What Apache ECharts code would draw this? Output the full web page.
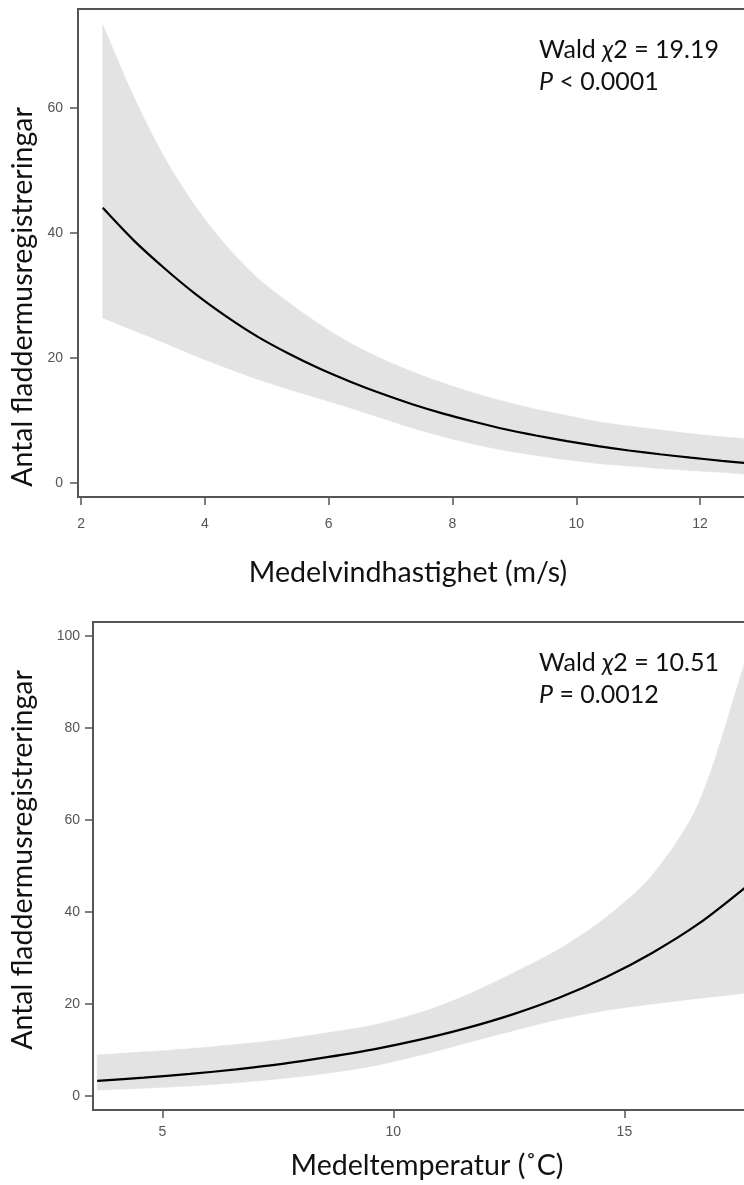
<!DOCTYPE html>
<html>
<head>
<meta charset="utf-8">
<script src="https://cdn.jsdelivr.net/npm/echarts@6/dist/echarts.min.js"></script>
<style>
html, body { margin: 0; padding: 0; background: #fff; }
#chart { width: 744px; height: 1185px; }
</style>
</head>
<body>
<div id="chart"></div>
<script>
// top panel: mean wind speed (m/s)
const windX     = [2.35, 2.85, 3.35, 3.85, 4.35, 4.85, 5.35, 5.85, 6.35, 6.85, 7.35, 7.85, 8.35, 8.85, 9.35, 9.85, 10.35, 10.85, 11.35, 11.85, 12.35, 12.85];
const windFit   = [44.0, 38.8, 34.3, 30.2, 26.6, 23.4, 20.7, 18.3, 16.2, 14.3, 12.6, 11.1, 9.8, 8.6, 7.6, 6.7, 5.9, 5.2, 4.6, 4.05, 3.55, 3.1];
const windLower = [26.4, 24.4, 22.4, 20.3, 18.4, 16.6, 15.0, 13.5, 12.0, 10.4, 8.8, 7.4, 6.2, 5.2, 4.4, 3.7, 3.1, 2.7, 2.3, 2.0, 1.7, 1.35];
const windUpper = [73.3, 61.8, 52.0, 44.2, 37.9, 32.8, 28.9, 25.4, 22.4, 19.9, 17.8, 16.0, 14.4, 13.0, 11.8, 10.8, 9.8, 9.1, 8.5, 7.9, 7.4, 7.0];
const windXTicks = [2, 4, 6, 8, 10, 12];
const windYTicks = [0, 20, 40, 60];

// bottom panel: mean temperature (C)
const tempX     = [3.59, 4.6, 5.6, 6.6, 7.6, 8.6, 9.6, 10.6, 11.6, 12.6, 13.6, 14.6, 15.6, 16.6, 17.6];
const tempFit   = [3.3, 4.0, 4.8, 5.8, 7.0, 8.5, 10.2, 12.3, 14.8, 17.8, 21.4, 25.8, 31.1, 37.4, 45.2];
const tempLower = [1.3, 1.7, 2.2, 2.9, 3.8, 5.0, 6.6, 8.9, 11.6, 14.2, 16.7, 18.6, 20.0, 21.2, 22.3];
const tempUpper = [8.9, 9.6, 10.3, 11.2, 12.3, 13.8, 15.5, 18.2, 22.0, 26.8, 32.0, 38.8, 48.0, 63.5, 94.0];
const tempXTicks = [5, 10, 15];
const tempYTicks = [0, 20, 40, 60, 80, 100];

const yTitle = 'Antal fladdermusregistreringar';
const windTitle = 'Medelvindhastighet (m/s)';
const tempTitle = 'Medeltemperatur (˚C)';

const frameColor = '#555';
const bandColor = '#e3e3e3';
const textFont = 'Lato, "Open Sans", sans-serif';

const pairs = function (xs, ys) {
    return xs.map(function (x, i) { return [x, ys[i]]; });
};

const makeAxis = function (idx, min, max, ticks, margin) {
    return {
        type: 'value', gridIndex: idx, min: min, max: max,
        axisLine: { show: false, onZero: false },
        splitLine: { show: false },
        axisTick: { show: true, customValues: ticks, length: 8, lineStyle: { color: frameColor, width: 1.5 } },
        axisLabel: { customValues: ticks, margin: margin, color: '#555', fontSize: 14, fontFamily: 'Liberation Sans, Arial' }
    };
};

// confidence band as one smoothed polygon; corner points doubled so the ends stay square
const bandSeries = function (idx, xs, lo, hi) {
    return {
        type: 'custom', xAxisIndex: idx, yAxisIndex: idx, silent: true, z: 1,
        data: [[xs[0], lo[0]]],
        renderItem: function (params, api) {
            const last = xs.length - 1;
            const pts = [api.coord([xs[0], hi[0]])];
            for (let i = 0; i <= last; i++) {
                pts.push(api.coord([xs[i], hi[i]]));
            }
            pts.push(api.coord([xs[last], hi[last]]));
            pts.push(api.coord([xs[last], lo[last]]));
            for (let i = last; i >= 0; i--) {
                pts.push(api.coord([xs[i], lo[i]]));
            }
            pts.push(api.coord([xs[0], lo[0]]));
            return {
                type: 'polygon',
                shape: { points: pts, smooth: 0.3 },
                style: { fill: bandColor, stroke: bandColor, lineWidth: 0.5 }
            };
        }
    };
};

const fitSeries = function (idx, xs, fit) {
    return {
        type: 'line', xAxisIndex: idx, yAxisIndex: idx, z: 3,
        data: pairs(xs, fit), symbol: 'none', smooth: 0.3,
        lineStyle: { color: '#000', width: 2.2 }
    };
};

const chart = echarts.init(document.getElementById('chart'), null, { renderer: 'canvas' });
chart.setOption({
    animation: false,
    backgroundColor: '#fff',
    grid: [
        { left: 78, top: 9, width: 684, height: 488, outerBoundsMode: 'none', containLabel: false,
          show: true, borderColor: frameColor, borderWidth: 2 },
        { left: 93, top: 622, width: 670, height: 488, outerBoundsMode: 'none', containLabel: false,
          show: true, borderColor: frameColor, borderWidth: 2 }
    ],
    xAxis: [
        makeAxis(0, 1.95, 13.0, windXTicks, 20),
        makeAxis(1, 3.5, 18.0, tempXTicks, 15)
    ],
    yAxis: [
        makeAxis(0, -2.24, 75.8, windYTicks, 15),
        makeAxis(1, -3.04, 103.04, tempYTicks, 13)
    ],
    series: [
        bandSeries(0, windX, windLower, windUpper),
        fitSeries(0, windX, windFit),
        bandSeries(1, tempX, tempLower, tempUpper),
        fitSeries(1, tempX, tempFit)
    ],
    graphic: [
        { type: 'text', x: 23, y: 297, rotation: Math.PI / 2,
          style: { text: yTitle, font: '28.5px ' + textFont, fill: '#111', align: 'center', verticalAlign: 'middle' } },
        { type: 'text', x: 23, y: 860, rotation: Math.PI / 2,
          style: { text: yTitle, font: '28.5px ' + textFont, fill: '#111', align: 'center', verticalAlign: 'middle' } },
        { type: 'text', x: 408, y: 573,
          style: { text: windTitle, font: '28.6px ' + textFont, fill: '#111', align: 'center', verticalAlign: 'middle' } },
        { type: 'text', x: 427, y: 1166,
          style: { text: tempTitle, font: '28.6px ' + textFont, fill: '#111', align: 'center', verticalAlign: 'middle' } },
        { type: 'text', x: 539, y: 34,
          style: {
              text: 'Wald {i|χ}2 = 19.19\n{i|P} < 0.0001',
              font: '25px ' + textFont, fill: '#111', lineHeight: 32,
              rich: { i: { fontStyle: 'italic', fontSize: 25, fontFamily: textFont, fill: '#111' } }
          } },
        { type: 'text', x: 539, y: 647,
          style: {
              text: 'Wald {i|χ}2 = 10.51\n{i|P} = 0.0012',
              font: '25px ' + textFont, fill: '#111', lineHeight: 32,
              rich: { i: { fontStyle: 'italic', fontSize: 25, fontFamily: textFont, fill: '#111' } }
          } }
    ]
});
</script>
</body>
</html>
